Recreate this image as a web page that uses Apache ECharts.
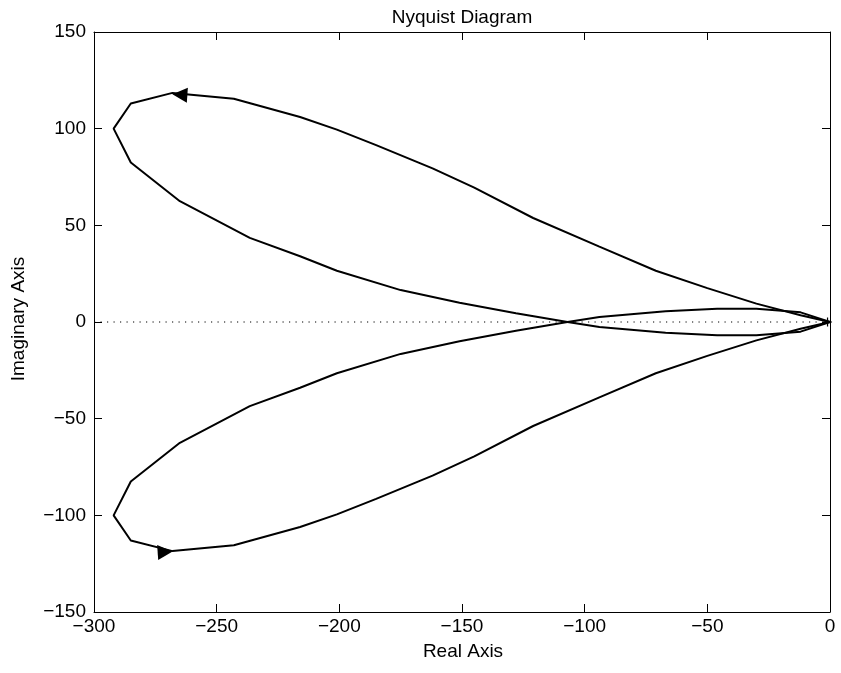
<!DOCTYPE html>
<html>
<head>
<meta charset="utf-8">
<script src="https://cdn.jsdelivr.net/npm/echarts@6/dist/echarts.min.js"></script>
<style>
html,body{margin:0;padding:0;background:#fff;}
#chart{width:841px;height:673px;}
</style>
</head>
<body>
<div id="chart"></div>
<script>
// Axis ticks
const xTicks = [-300, -250, -200, -150, -100, -50, 0];
const yTicks = [-150, -100, -50, 0, 50, 100, 150];

// Positive-frequency branch, outer part (origin -> left vertex)
const outerRe = [0, -12, -30, -50, -71, -94, -121, -145, -162, -185, -201, -216, -243, -268, -285, -292];
const outerIm = [0, 3.5, 9.5, 17.5, 26.5, 39, 53.8, 69.5, 79.5, 91.5, 99.5, 106, 115.5, 118.5, 113, 100];

// Positive-frequency branch, inner part (left vertex -> origin)
const innerRe = [-292, -285, -265, -236.5, -216, -201, -175, -151, -128, -107, -94, -67, -46, -30, -12, 0];
const innerIm = [100, 82.5, 62.5, 43.5, 34, 26.5, 16.5, 10, 4.5, 0, -2.6, -5.5, -6.8, -6.8, -5, 0];

// Direction arrows
const arrowRe = [-265, -271];
const arrowIm = [117.5, -119];
const arrowRot = [86, -86];

// Critical point marker
const critRe = [-1];
const critIm = [0];

function buildBranch(sign) {
  const pts = [];
  for (let i = 0; i < outerRe.length; i++) pts.push([outerRe[i], sign * outerIm[i]]);
  for (let i = 1; i < innerRe.length; i++) pts.push([innerRe[i], sign * innerIm[i]]);
  return pts;
}

const fmt = v => (v < 0 ? '\u2212' + Math.abs(v) : String(v));
const FONT = '"Liberation Sans", Arial, Helvetica, sans-serif';

const chart = echarts.init(document.getElementById('chart'), null, {renderer: 'canvas'});

const axisCommon = {
  type: 'value',
  axisLine: {show: true, onZero: false, lineStyle: {color: '#000', width: 1}},
  axisTick: {show: true, inside: true, length: 8, lineStyle: {color: '#000', width: 1}},
  splitLine: {show: false}
};

chart.setOption({
  animation: false,
  backgroundColor: '#fff',
  grid: {left: 94, right: 11, top: 32, bottom: 61, containLabel: false},
  xAxis: [
    Object.assign({}, axisCommon, {
      min: xTicks[0], max: xTicks[xTicks.length - 1], interval: 50, position: 'bottom',
      axisLabel: {color: '#000', fontSize: 19, fontFamily: FONT, margin: 5, formatter: fmt}
    }),
    Object.assign({}, axisCommon, {
      min: xTicks[0], max: xTicks[xTicks.length - 1], interval: 50, position: 'top',
      axisLabel: {show: false}
    })
  ],
  yAxis: [
    Object.assign({}, axisCommon, {
      min: yTicks[0], max: yTicks[yTicks.length - 1], interval: 50, position: 'left',
      axisLabel: {color: '#000', fontSize: 19, fontFamily: FONT, margin: 8, formatter: fmt}
    }),
    Object.assign({}, axisCommon, {
      min: yTicks[0], max: yTicks[yTicks.length - 1], interval: 50, position: 'right',
      axisLabel: {show: false}
    })
  ],
  graphic: [
    {type: 'text', x: 462, y: 18, style: {text: 'Nyquist Diagram', font: '19px ' + FONT, fill: '#000', textAlign: 'center', textVerticalAlign: 'middle'}},
    {type: 'text', x: 463, y: 652, style: {text: 'Real Axis', font: '19px ' + FONT, fill: '#000', textAlign: 'center', textVerticalAlign: 'middle'}},
    {type: 'text', x: 19, y: 319, rotation: Math.PI / 2, style: {text: 'Imaginary Axis', font: '19px ' + FONT, fill: '#000', textAlign: 'center', textVerticalAlign: 'middle'}}
  ],
  series: [
    {
      type: 'line', name: 'zero', data: [[xTicks[0], 0], [xTicks[xTicks.length - 1], 0]],
      symbol: 'none', silent: true,
      lineStyle: {color: '#000', width: 1.2, type: [1.2, 5.3]}
    },
    {
      type: 'line', name: 'positive', data: buildBranch(1),
      symbol: 'none', smooth: false, silent: true,
      lineStyle: {color: '#000', width: 2}
    },
    {
      type: 'line', name: 'negative', data: buildBranch(-1),
      symbol: 'none', smooth: false, silent: true,
      lineStyle: {color: '#000', width: 2}
    },
    {
      type: 'scatter', name: 'arrows',
      data: arrowRe.map((r, i) => ({value: [r, arrowIm[i]], symbolRotate: arrowRot[i]})),
      symbol: 'triangle', symbolSize: [15, 15], silent: true,
      itemStyle: {color: '#000', opacity: 1}
    },
    {
      type: 'scatter', name: 'critical',
      data: critRe.map((r, i) => [r, critIm[i]]),
      symbol: 'path://M0,5L10,5M5,0L5,10', symbolSize: 9, silent: true,
      itemStyle: {color: 'none', borderColor: '#000', borderWidth: 1.2, opacity: 1}
    }
  ]
});
</script>
</body>
</html>
